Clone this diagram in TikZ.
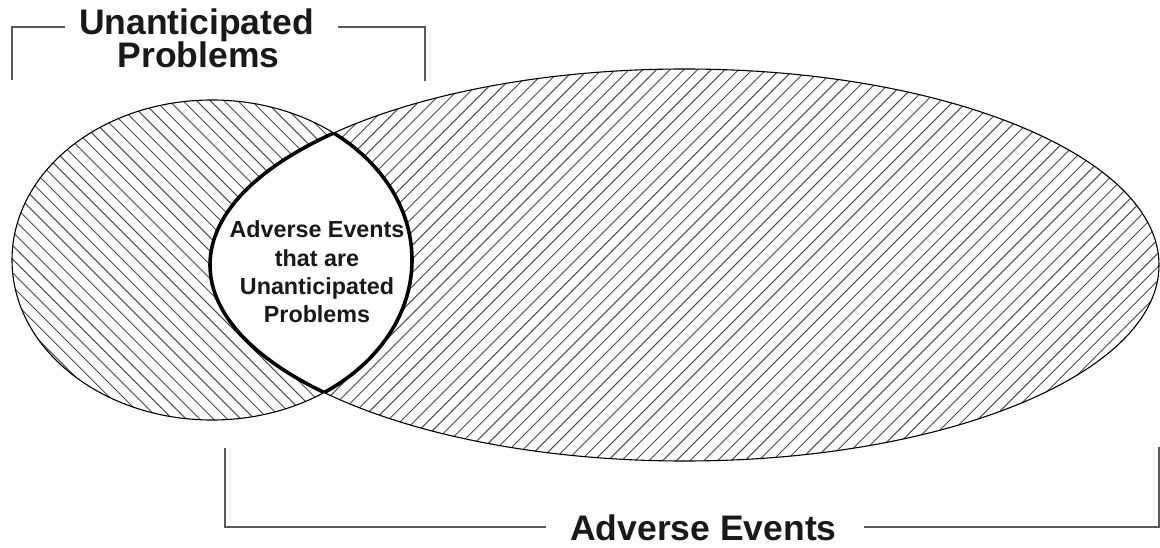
\documentclass[tikz,border=0pt]{standalone}
\usepackage{fontspec}
\setmainfont{Liberation Sans}
\begin{document}
\begin{tikzpicture}[x=1pt,y=-1pt,
  hatch/.style={line width=0.95pt, black!70},
  outline/.style={line width=1.1pt, black},
  lensline/.style={line width=3.6pt, black},
  bracket/.style={line width=2.2pt, black!65, line cap=butt, line join=miter},
  biglabel/.style={font=\fontsize{35.5}{33}\selectfont\bfseries, inner sep=0pt, text=black!90},
  smalllabel/.style={font=\fontsize{23.3}{28.3}\selectfont\bfseries, inner sep=0pt, align=center, text=black!90}]
\useasboundingbox (0,0) rectangle (1160,548);
\def\bigE{(684.5,265) ellipse [x radius=474.5, y radius=196]}
\def\smallE{(212,260) ellipse [x radius=200, y radius=160]}
% hatching of the large ellipse
\begin{scope}
  \clip \bigE;
  \foreach \k in {-22,...,80} \draw[hatch] ({\k*13.7},548) -- ({\k*13.7+548},0);
\end{scope}
% hatching of the small ellipse
\begin{scope}
  \clip \smallE;
  \foreach \k in {-31,...,24} \draw[hatch] ({\k*13.7},0) -- ({\k*13.7+548},548);
\end{scope}
% white lens
\begin{scope}
  \clip \smallE;
  \fill[white] \bigE;
\end{scope}
% outlines
\draw[outline] \smallE;
\draw[outline] \bigE;
% thick lens outline
\begin{scope}
  \clip \smallE;
  \draw[lensline] \bigE;
\end{scope}
\begin{scope}
  \clip \bigE;
  \draw[lensline] \smallE;
\end{scope}
% labels
\node[smalllabel] (inter) at (317,272) {Adverse Events\\that are\\Unanticipated\\Problems};
\node[biglabel, anchor=base] (up1) at (196.5,35) {Unanticipated};
\node[biglabel, anchor=base] (up2) at (198.5,68) {Problems};
\node[biglabel, anchor=base] (ae) at (703.5,540.5) {Adverse Events};
% brackets
\coordinate (tl1) at (12,80);
\coordinate (tl2) at (12,27);
\coordinate (tl3) at (65,27);
\coordinate (tr1) at (425,81);
\coordinate (tr2) at (425,27);
\coordinate (tr3) at (338,27);
\draw[bracket] (tl1) -- (tl2) -- (tl3);
\draw[bracket] (tr1) -- (tr2) -- (tr3);
\coordinate (bl1) at (225,448);
\coordinate (bl2) at (225,527);
\coordinate (bl3) at (546,527);
\coordinate (br1) at (1159,447);
\coordinate (br2) at (1159,527);
\coordinate (br3) at (864,527);
\draw[bracket] (bl1) -- (bl2) -- (bl3);
\draw[bracket] (br1) -- (br2) -- (br3);
\end{tikzpicture}
\end{document}
